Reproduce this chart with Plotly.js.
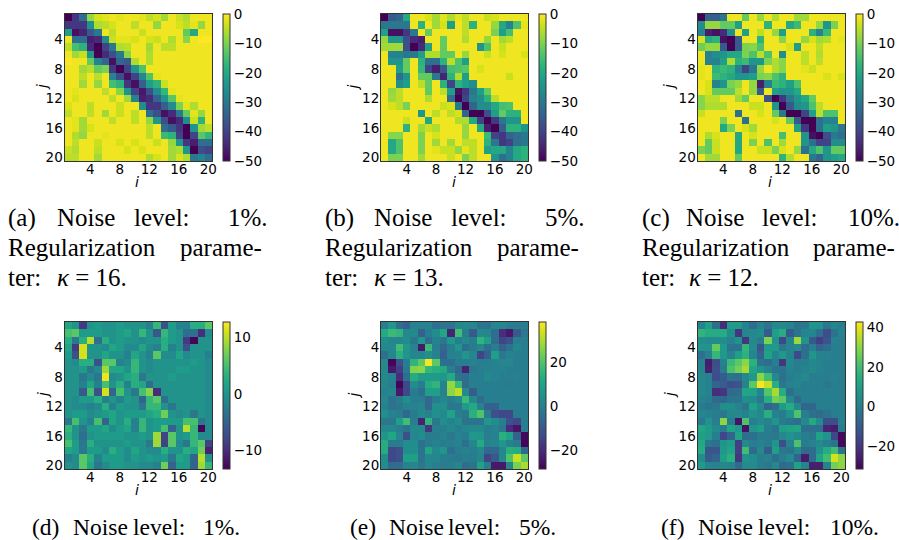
<!DOCTYPE html>
<html><head><meta charset="utf-8">
<script src="https://cdn.plot.ly/plotly-3.0.1.min.js"></script>
<style>html,body{margin:0;padding:0;background:#fff}</style></head>
<body><div id="chart" style="width:899px;height:540px"></div>
<script>
const cells = [1,2,3,4,5,6,7,8,9,10,11,12,13,14,15,16,17,18,19,20];
const tickVals = [4,8,12,16,20];
const tickText = ['4','8','12','16','20'];

const zA = [
[-50,-42,-32,-8,-3,-2,-1,-2,-1,-1,-2,-5,-3,-7,-1,-4,-6,-1,-1,-1],
[-42,-42,-42,-25,-6,-5,-3,-1,-1,-5,-1,-1,-8,-1,-1,-3,-5,-2,-8,-1],
[-22,-48,-45,-36,-30,-1,-5,-1,-1,-1,-4,-1,-1,-1,-1,-1,-12,-20,-1,-1],
[-1,-32,-32,-46,-44,-26,-4,-2,-2,-3,-1,-3,-4,-1,-6,-1,-9,-1,0,0],
[-5,-15,-18,-44,-50,-40,-30,-6,-5,-1,-1,-7,-1,-5,-5,-1,-1,-1,-1,-1],
[-1,-7,-4,-24,-50,-44,-38,-30,-9,-1,-1,-6,-1,-1,-1,-1,-1,-1,-1,-1],
[0,-1,-1,-12,-28,-34,-48,-34,-36,-6,-1,-6,-1,-1,-1,-1,-1,-1,-1,-1],
[-1,-1,-7,-5,-12,-10,-42,-50,-40,-24,-14,-1,-1,-1,-1,-1,-1,-1,-1,-1],
[-1,-1,-5,-1,-5,-1,-28,-38,-48,-40,-27,-14,-2,-1,-1,-1,-1,-1,-1,-1],
[-1,-1,-7,-1,-8,-1,-15,-18,-42,-48,-35,-22,-18,-4,-1,-1,-1,-1,-1,-1],
[-1,-2,-1,-1,-1,-5,-1,-9,-24,-40,-47,-38,-26,-17,-2,-1,-1,-1,-1,-1],
[-1,-3,-1,-1,-1,-1,-5,-1,-7,-28,-46,-44,-34,-24,-13,-2,-1,-1,-1,-1],
[-3,-1,-1,-5,-1,-1,-1,-4,-1,-1,-26,-42,-42,-35,-26,-10,-2,-6,-1,-1],
[-5,-1,-1,-5,-1,-7,-1,-4,-1,-5,-1,-32,-38,-48,-44,-30,-12,-2,-8,-1],
[-1,-2,-7,-1,-1,-1,-5,-1,-1,-5,-1,-8,-24,-38,-48,-44,-26,-4,-18,-1],
[-1,-2,-7,-3,-1,-1,-1,-1,-1,-1,-1,-5,-1,-32,-36,-42,-50,-24,-7,-5],
[-1,-6,-8,-1,-1,-2,-1,-1,-1,-1,-1,-5,-1,-16,-18,-40,-50,-40,-13,-17],
[-1,-5,-1,-1,-4,-1,-1,-3,-1,-3,-1,-1,-4,-1,-8,-24,-42,-46,-32,-32],
[-4,-6,-1,-1,-5,-1,-1,-1,-3,-1,-3,-1,-1,-1,-7,-6,-24,-50,-38,-40],
[-5,-5,-1,-1,-7,-1,-1,-1,-1,-1,-1,-6,-3,-1,-7,-3,-6,-30,-28,-32]];

const zB = [
[-50,-36,-34,-20,-1,-1,-3,-7,-2,-6,-2,-5,-1,-1,-4,-3,-1,-1,-1,-1],
[-30,-30,-30,-30,-1,-18,-1,-7,-3,-22,-1,-5,-18,-1,-1,-8,-20,-28,-14,-2],
[-22,-48,-48,-42,-30,-1,-12,-1,-1,-1,-1,-5,-1,-1,-1,-10,-22,-15,-1,-1],
[-8,-24,-24,-38,-44,-46,-1,-1,-12,-1,-1,-6,-1,-1,-8,-1,-7,-5,-1,-1],
[-7,-7,-7,-38,-50,-44,-22,-1,-12,-1,-1,-1,-1,-24,-14,-1,-4,-1,-1,-1],
[-1,-28,-28,-30,-30,-22,-6,-6,-12,-12,-1,-8,-1,-1,-4,-1,-3,-1,-1,-3],
[-1,-24,-24,-12,-1,-18,-32,-32,-18,-5,-14,-22,-1,-1,-1,-1,-1,-1,-1,-1],
[-1,-1,-22,-12,-1,-17,-40,-46,-36,-15,-14,-13,-1,-3,-1,-1,-1,-1,-1,-1],
[-1,-1,-32,-24,-1,-12,-12,-30,-45,-18,-6,-22,-1,-1,-1,-1,-1,-4,-1,-1],
[-1,-1,-26,-22,-1,-5,-12,-1,-18,-40,-18,-22,-26,-1,-1,-1,-1,-1,-1,-1],
[-1,-8,-5,-1,-1,-1,-12,-1,-5,-22,-48,-42,-30,-22,-12,-1,-1,-1,-1,-1],
[-1,-7,-5,-1,-1,-1,-6,-1,-1,-32,-50,-40,-28,-26,-18,-5,-1,-1,-1,-1],
[-1,-3,-5,-10,-1,-1,-1,-1,-4,-3,-30,-50,-34,-26,-26,-20,-15,-14,-1,-1],
[-1,-1,-1,-1,-1,-24,-1,-5,-1,-5,-3,-34,-50,-50,-38,-22,-12,-18,-18,-1],
[-1,-1,-1,-4,-1,-1,-20,-1,-1,-1,-6,-6,-20,-40,-50,-42,-30,-24,-24,-1],
[-1,-1,-1,-18,-1,-7,-4,-6,-1,-1,-1,-8,-1,-20,-46,-50,-35,-18,-18,-24],
[-1,-9,-9,-1,-1,-10,-1,-3,-1,-1,-1,-8,-1,-1,-16,-40,-42,-34,-32,-30],
[-1,-20,-14,-1,-1,-10,-1,-7,-1,-7,-1,-5,-5,-1,-18,-30,-42,-40,-32,-30],
[-1,-20,-14,-1,-1,-10,-1,-2,-4,-4,-8,-2,-5,-1,-22,-20,-20,-28,-20,-18],
[-1,-10,-10,-1,-1,-7,-1,-1,-1,-4,-1,-10,-5,-1,-1,-24,-32,-28,-20,-18]];

const zC = [
[-50,-35,-35,-30,-1,-1,-12,-1,-8,-1,-6,-1,-1,-7,-7,-1,-1,-1,-1,-1],
[-26,-8,-8,-12,-12,-22,-1,-1,-1,-18,-1,-1,-20,-16,-1,-1,-8,-24,-10,-1],
[-28,-46,-48,-44,-26,-1,-22,-1,-5,-1,-8,-22,-1,-1,-1,-18,-28,-16,-1,-1],
[-3,-20,-18,-48,-50,-36,-1,-1,-18,-1,-1,-9,-1,-1,-8,-3,-7,-6,-1,-2],
[-11,-8,-8,-36,-50,-36,-10,-9,-14,-1,-1,-1,-3,-22,-1,-1,-5,-1,-1,-1],
[-1,-28,-26,-24,-20,-20,-10,-14,-5,-14,-1,-26,-1,-1,-5,-1,-6,-1,-1,-1],
[-1,-28,-28,-22,-6,-18,-16,-24,-24,-10,-6,-9,-1,-1,-5,-1,-5,-1,-1,-1],
[-2,-1,-18,-16,-18,-28,-40,-30,-8,-1,-6,-9,-1,-1,-2,-4,-1,-1,-1,-1],
[-2,-1,-16,-18,-20,-24,-24,-22,-10,-9,-14,-18,-1,-1,-1,-1,-1,-3,-1,-3],
[-1,-3,-28,-24,-10,-8,-1,-8,-46,-28,-16,-18,-22,-14,-1,-1,-1,-1,-1,-1],
[-1,-3,-12,-12,-12,-5,-1,-8,-36,-1,-22,-24,-24,-20,-1,-1,-1,-1,-1,-1],
[-9,-5,-5,-1,-1,-7,-12,-1,-1,-38,-50,-42,-30,-24,-20,-12,-1,-1,-1,-1],
[-9,-6,-6,-6,-1,-1,-1,-4,-4,-1,-24,-50,-36,-26,-24,-14,-5,-1,-1,-1],
[-4,-1,-1,-1,-1,-32,-1,-1,-3,-1,-12,-30,-50,-50,-40,-22,-5,-14,-14,-1],
[-1,-1,-1,-10,-1,-1,-32,-1,-1,-1,-3,-1,-12,-36,-50,-50,-32,-28,-28,-1],
[-1,-1,-1,-20,-10,-1,-3,-7,-1,-1,-1,-1,-1,-22,-42,-50,-32,-22,-24,-30],
[-1,-6,-3,-1,-1,-20,-1,-3,-1,-1,-1,-15,-1,-1,-24,-48,-50,-38,-30,-32],
[-1,-12,-4,-1,-1,-20,-1,-10,-1,-14,-1,-7,-1,-1,-24,-32,-40,-40,-26,-26],
[-10,-12,-4,-1,-1,-20,-1,-1,-4,-4,-10,-3,-1,-8,-32,-20,-14,-24,-12,-12],
[-1,-7,-7,-1,-1,-12,-1,-1,-1,-1,-1,-18,-6,-1,-1,-30,-34,-24,-22,-20]];

const zD = [
[2,0,-9,0,1,0,0,1,0,0,0,-2,4,-7,1,-2,-2,3,3,6],
[5,6,1,1,1,0,0,1,2,0,4,0,-6,4,1,0,-4,-4,-10,-1],
[3,-3,3,10,-4,3,0,1,0,0,-1,0,0,3,1,0,-9,-13,0,0],
[2,-9,11,0,0,-1,2,1,-1,-1,2,-1,-2,3,-2,0,-7,0,0,0],
[1,-7,11,0,0,2,0,0,-2,2,0,-2,6,-1,-1,2,-1,0,0,-2],
[0,-1,3,3,-7,6,6,-2,-1,4,0,-1,0,0,0,0,0,1,0,-1],
[0,0,1,-3,-1,9,2,2,0,4,0,-1,0,0,0,1,1,0,0,-1],
[0,0,-3,-1,-3,12,-1,0,2,3,-3,0,0,0,1,0,0,0,0,-1],
[0,0,-2,2,-2,5,0,3,-2,3,2,-4,0,0,0,0,0,0,0,-1],
[0,0,-6,5,-7,11,-5,5,0,-3,5,8,-10,0,0,0,0,0,0,-1],
[0,-1,1,1,3,-2,0,-2,1,0,-5,4,6,-4,0,0,0,0,0,-1],
[0,-1,-1,-2,-1,3,-2,1,0,0,-3,4,4,0,-3,0,0,0,0,-1],
[0,1,1,-1,0,1,2,0,1,1,1,2,3,7,0,-1,0,-3,0,-1],
[-3,5,0,-2,5,-5,2,0,3,-2,4,0,1,1,1,1,5,5,-3,-1],
[4,0,-3,1,1,2,-1,1,2,-2,4,0,1,5,-5,0,10,4,-13,-1],
[3,0,-4,0,1,1,1,1,0,0,1,0,9,-8,6,0,1,4,-1,-1],
[5,1,-3,3,0,0,0,0,1,0,0,-3,9,-8,6,-1,-3,4,6,-8],
[2,1,-3,1,1,-1,3,1,-1,2,0,-1,-1,3,0,0,3,2,7,-11],
[-2,-1,6,3,-2,1,1,1,-1,1,0,1,0,1,-3,2,1,-5,10,0],
[0,-1,6,2,-3,-1,1,1,0,0,-1,-1,-2,7,-5,1,1,-5,9,4]];

const zE = [
[0,6,-4,-8,1,1,1,-4,-3,-3,2,3,2,-3,-3,2,2,0,-1,0],
[12,17,15,3,3,-8,0,4,11,-22,18,0,-10,3,2,-4,-20,-24,-10,-2],
[4,2,2,4,-2,7,-5,1,-2,7,0,3,0,15,9,-5,-15,-12,0,0],
[3,3,18,7,1,-24,17,0,-6,0,6,-4,-1,3,-4,0,-8,-3,2,0],
[-4,2,14,6,2,2,5,1,-8,1,1,6,2,-15,-8,9,-2,1,0,0],
[3,-28,-12,0,15,22,38,22,-4,-4,0,0,1,0,0,1,2,2,0,0],
[3,-24,-16,-1,26,27,16,14,12,0,-6,-22,-2,0,1,1,1,0,0,0],
[3,1,-20,-4,13,8,8,8,7,12,-3,-4,0,0,3,1,0,0,1,0],
[2,0,-28,-14,4,-1,13,15,1,28,17,-5,0,0,0,0,0,-1,0,0],
[1,2,-24,-14,-1,-4,9,9,1,27,32,3,-9,0,0,0,0,0,0,0],
[2,-3,-1,5,0,0,-6,-1,2,0,3,17,3,-5,0,0,0,0,0,0],
[1,-3,-2,1,1,2,-6,5,5,-2,-2,8,12,1,-8,-8,0,0,0,0],
[5,1,0,-6,-1,3,1,5,3,10,0,-2,14,20,-1,-12,-14,-14,-1,0],
[-2,-2,9,18,0,-22,15,-2,5,1,4,-3,-3,-3,7,4,0,-12,-14,0],
[3,3,0,-3,3,3,-18,0,0,3,0,2,3,3,0,1,-2,-20,-25,0],
[6,11,2,-12,2,4,-1,-1,1,-2,1,-1,7,6,0,1,14,10,-8,-27],
[13,-1,-1,4,4,-4,-1,1,-1,0,1,-4,2,12,1,2,7,1,-1,-28],
[13,-14,-12,4,5,-3,11,3,6,-4,0,1,0,3,-6,-6,2,14,13,-6],
[4,-14,-12,9,9,-3,2,2,0,-1,-2,0,-1,2,-15,-10,3,20,33,22],
[4,-5,-4,1,2,-2,2,0,-1,0,2,-5,-3,10,0,-24,-24,2,25,30]];

const zF = [
[1,10,-5,-22,9,9,1,-5,1,-3,3,3,2,-3,-2,7,6,-2,2,0],
[17,14,14,14,5,-20,2,3,5,-10,10,14,-10,-3,2,2,-4,-14,-3,1],
[5,4,4,5,1,6,-20,3,-1,28,6,-16,2,32,6,-11,-18,-12,1,0],
[7,6,25,8,-3,-3,18,4,-12,8,8,-2,2,4,-5,0,-8,-4,0,0],
[-4,1,18,8,1,10,16,2,-8,11,2,8,2,-15,-4,7,1,1,0,0],
[1,-26,-14,1,19,24,30,16,-3,-5,0,-20,3,0,0,3,2,0,0,0],
[2,-25,-13,-1,22,27,33,12,7,2,-3,-3,1,0,1,3,1,0,0,0],
[3,1,-14,-10,-3,-4,3,8,30,20,3,-4,0,1,3,0,0,0,1,0],
[3,1,-8,-10,-14,-12,1,24,42,36,15,-2,1,2,0,0,0,-2,0,0],
[3,1,-22,-20,-6,-5,12,11,2,23,33,14,-4,0,0,0,0,0,0,0],
[1,0,-6,-7,-3,-3,5,4,-2,15,27,24,3,-6,0,0,0,0,0,0],
[-1,-3,-2,5,5,1,-3,11,4,-8,-4,9,14,3,-7,-7,0,0,0,0],
[2,1,-1,-2,3,3,1,6,3,15,1,-1,6,22,0,-4,-6,-3,-1,0],
[-2,6,0,30,0,-28,22,0,4,1,7,-1,-3,-5,3,13,4,-14,-14,1],
[12,9,4,-1,12,8,-28,7,10,0,-3,10,11,12,-4,-4,-4,-24,-26,-1],
[10,8,0,-16,-8,12,-5,-4,-1,-1,-2,3,6,4,0,-2,11,6,-16,-30],
[13,-2,-4,7,10,-18,3,0,1,-1,7,-14,1,22,-1,1,4,0,-3,-30],
[14,-12,-12,8,12,-18,20,-6,3,-10,10,-2,-3,3,-6,-5,6,14,20,-3],
[5,-10,-8,10,16,-20,6,5,0,1,-4,0,4,-8,-26,-6,12,20,38,30],
[9,2,1,3,2,-6,4,4,0,-2,3,-6,-4,11,2,-25,-25,1,27,30]];

const captionText = [
 '(a)','Noise','level:','1%.','Regularization','parame-','ter:','<i>κ</i> = 16.',
 '(b)','Noise','level:','5%.','Regularization','parame-','ter:','<i>κ</i> = 13.',
 '(c)','Noise','level:','10%.','Regularization','parame-','ter:','<i>κ</i> = 12.',
 '(d)','Noise','level:','1%.','(e)','Noise','level:','5%.','(f)','Noise','level:','10%.'];

const W = 899, H = 540;
const captionPos = [
 [6.3,218],[54.7,218],[132,218],[225.7,218],[6.3,247],[178,247],[6.3,277],[54.7,277],
 [323,218],[371.7,218],[449,218],[542.7,218],[323,247],[495,247],[323,277],[371.7,277],
 [639.7,218],[684,218],[760,218],[846,218],[639.7,247],[810.7,247],[639.7,277],[687,277],
 [29.7,527],[71.3,527],[131,527],[201,527],[348,527],[387,527],[446,527],[517.3,527],
 [658.7,527],[696,527],[756,527],[828,527]];
const panels = [
 {z:zA, zmin:-50, zmax:0, cbTicks:[0,-10,-20,-30,-40,-50], x0:64.5, x1:212, y0:14, y1:161, cb:222.5, jx:42.5},
 {z:zB, zmin:-50, zmax:0, cbTicks:[0,-10,-20,-30,-40,-50], x0:381, x1:528, y0:14, y1:161, cb:539, jx:353},
 {z:zC, zmin:-50, zmax:0, cbTicks:[0,-10,-20,-30,-40,-50], x0:697.5, x1:845, y0:14, y1:161, cb:855.5, jx:669.5},
 {z:zD, zmin:-13.3, zmax:12.7, cbTicks:[10,0,-10], x0:64.5, x1:212, y0:322, y1:469, cb:222.5, jx:42.5},
 {z:zE, zmin:-28.5, zmax:38.6, cbTicks:[20,0,-20], x0:381, x1:528, y0:322, y1:469, cb:539, jx:353},
 {z:zF, zmin:-31.5, zmax:42.8, cbTicks:[40,20,0,-20], x0:697.5, x1:845, y0:322, y1:469, cb:855.5, jx:669.5}
];

const tickFont = {family:'DejaVu Sans', size:13.5, color:'#000'};
const traces = [];
const annotations = captionText.map((t,k) => ({
  text:t, xref:'paper', yref:'paper', x:captionPos[k][0]/W, y:1-captionPos[k][1]/H,
  xanchor:'left', yanchor:'middle', showarrow:false,
  font:{family:'Liberation Serif', size:captionPos[k][1]>500 ? 23.5 : 25, color:'#000'}
}));
const layout = {
  width:W, height:H, margin:{l:0,r:0,t:0,b:0}, autosize:false,
  paper_bgcolor:'#fff', plot_bgcolor:'#fff', showlegend:false, annotations
};

panels.forEach((p,i) => {
  const n = i===0 ? '' : String(i+1);
  traces.push({
    type:'heatmap', x:cells, y:cells, z:p.z, zmin:p.zmin, zmax:p.zmax,
    colorscale:'Viridis', xaxis:'x'+n, yaxis:'y'+n, xgap:0, ygap:0,
    colorbar:{
      x:p.cb/W, xanchor:'left', xpad:0, ypad:0,
      y:1-p.y1/H, yanchor:'bottom', len:(p.y1-p.y0)/H, lenmode:'fraction',
      thickness:7, thicknessmode:'pixels', outlinecolor:'#333', outlinewidth:1,
      tickmode:'array', tickvals:p.cbTicks, ticktext:p.cbTicks.map(v=>v<0?'\u2212'+(-v):String(v)),
      ticks:'', ticklen:0, tickfont:tickFont
    }
  });
  layout['xaxis'+n] = {
    domain:[p.x0/W,p.x1/W], anchor:'y'+n, range:[0.5,20.5], tickmode:'array',
    tickvals:tickVals, ticktext:tickText, ticks:'', showgrid:false, zeroline:false,
    showline:true, mirror:true, linecolor:'#333', linewidth:1, tickfont:tickFont,
    ticklabelstandoff:-4
  };
  layout['yaxis'+n] = {
    domain:[1-p.y1/H,1-p.y0/H], anchor:'x'+n, range:[20.5,0.5], tickmode:'array',
    tickvals:tickVals, ticktext:tickText, ticks:'', showgrid:false, zeroline:false,
    showline:true, mirror:true, linecolor:'#333', linewidth:1, tickfont:tickFont,
    ticklabelstandoff:-2
  };
  annotations.push({
    text:'<i>i</i>', xref:'paper', yref:'paper', x:((p.x0+p.x1)/2-1)/W, y:1-(p.y1+21)/H,
    xanchor:'center', yanchor:'middle', showarrow:false,
    font:{family:'DejaVu Sans', size:14, color:'#000'}
  });
  annotations.push({
    text:'<i>j</i>', xref:'paper', yref:'paper', x:p.jx/W, y:1-((p.y0+p.y1)/2)/H,
    xanchor:'center', yanchor:'middle', textangle:-90, showarrow:false,
    font:{family:'DejaVu Sans', size:14, color:'#000'}
  });
});

Plotly.newPlot('chart', traces, layout, {displayModeBar:false, staticPlot:true});
</script></body></html>
